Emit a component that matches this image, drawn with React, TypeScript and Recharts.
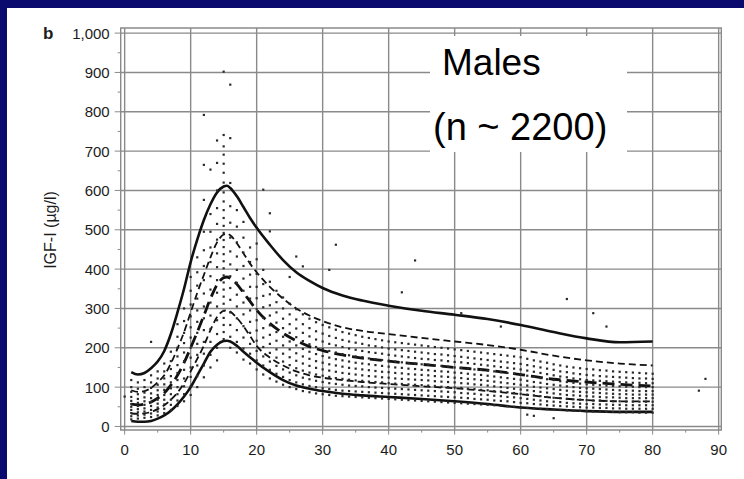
import React from 'react';
import {
  ComposedChart,
  Line,
  Scatter,
  XAxis,
  YAxis,
  ReferenceLine,
  ReferenceArea,
} from 'recharts';

// percentile curves (age in years, IGF-I in ug/l)
const ages = [1, 2, 3, 4, 5, 6, 7, 8, 9, 10, 11, 12, 13, 14, 15, 15.5, 16, 17, 18, 19, 20, 22, 24, 26, 28, 30, 33, 36, 40, 45, 50, 55, 60, 65, 70, 75, 80];
const p975 = [138, 132, 136, 148, 165, 192, 235, 290, 350, 418, 475, 525, 565, 595, 610, 612, 606, 585, 558, 530, 505, 462, 423, 392, 370, 352, 333, 320, 307, 294, 284, 273, 258, 240, 224, 214, 216];
const p84 = [92, 88, 90, 98, 112, 130, 160, 198, 240, 290, 340, 385, 430, 468, 488, 490, 486, 466, 440, 414, 392, 355, 325, 300, 282, 268, 252, 243, 235, 225, 216, 207, 195, 180, 168, 160, 155];
const p50 = [57, 55, 57, 62, 72, 85, 105, 130, 162, 200, 240, 282, 325, 360, 378, 380, 377, 362, 340, 318, 296, 262, 237, 218, 203, 193, 182, 174, 166, 158, 150, 143, 132, 120, 113, 107, 103];
const p16 = [33, 32, 33, 37, 44, 54, 68, 86, 110, 140, 172, 205, 245, 278, 294, 295, 292, 276, 255, 230, 205, 175, 155, 140, 130, 124, 118, 113, 108, 102, 97, 90, 82, 73, 67, 64, 64];
const p25 = [14, 12, 12, 14, 20, 28, 40, 56, 76, 100, 130, 160, 190, 208, 217, 218, 216, 205, 190, 176, 162, 138, 118, 104, 96, 90, 83, 79, 75, 70, 64, 57, 48, 43, 39, 37, 37];

// individual measurements, grouped by age
const cloud: [number, number[]][] = [
  [0, [76]],
  [1, [18, 26, 34, 42, 50, 57, 65, 75, 88, 100, 118]],
  [2, [20, 28, 36, 44, 52, 60, 70, 82, 96, 112]],
  [3, [22, 30, 38, 46, 55, 64, 74, 86, 100, 118]],
  [4, [24, 33, 42, 52, 62, 72, 84, 98, 112, 130, 215]],
  [5, [28, 38, 48, 58, 68, 80, 92, 106, 122, 140]],
  [6, [34, 45, 56, 68, 80, 93, 107, 122, 140, 160]],
  [7, [42, 55, 68, 82, 97, 112, 128, 146, 166, 190]],
  [8, [52, 66, 82, 100, 118, 136, 156, 178, 200, 228, 260]],
  [9, [64, 82, 102, 122, 144, 166, 188, 212, 238, 268, 300]],
  [10, [80, 102, 126, 150, 175, 200, 226, 252, 280, 310, 345, 380]],
  [11, [100, 128, 155, 182, 210, 238, 266, 295, 325, 358, 392, 430]],
  [12, [125, 155, 185, 215, 245, 275, 305, 338, 372, 408, 448, 495, 576, 665, 792]],
  [13, [150, 182, 215, 248, 282, 315, 348, 382, 418, 455, 495, 540, 653]],
  [14, [168, 200, 235, 270, 305, 340, 372, 405, 440, 475, 515, 555, 600, 670, 727]],
  [15, [222, 240, 258, 276, 294, 312, 330, 348, 366, 384, 402, 420, 438, 456, 474, 492, 510, 530, 550, 572, 595, 620, 645, 668, 691, 712, 741, 902]],
  [16, [200, 228, 258, 290, 322, 352, 382, 412, 445, 480, 518, 560, 619, 733, 869]],
  [17, [188, 215, 245, 275, 305, 335, 365, 398, 432, 468, 508, 550]],
  [18, [170, 198, 226, 255, 285, 315, 345, 376, 408, 442, 480, 520]],
  [19, [160, 185, 210, 238, 266, 295, 325, 355, 386, 418, 455]],
  [20, [145, 168, 192, 218, 244, 270, 298, 326, 355, 388, 425, 465]],
  [21, [132, 155, 178, 202, 226, 250, 276, 303, 332, 362, 398, 602]],
  [22, [122, 144, 165, 187, 210, 233, 257, 282, 308, 336, 368, 496, 542]],
  [23, [114, 134, 154, 175, 196, 218, 240, 264, 290, 316, 345]],
  [24, [106, 126, 145, 165, 185, 206, 228, 250, 274, 300, 328]],
  [25, [100, 118, 137, 156, 176, 196, 216, 238, 260, 285, 312, 380]],
  [26, [95, 112, 130, 148, 167, 186, 206, 227, 249, 272, 298, 432]],
  [27, [90, 107, 124, 142, 160, 178, 197, 217, 238, 260, 285, 407]],
  [28, [87, 103, 120, 137, 154, 172, 190, 209, 229, 250, 274]],
  [29, [84, 100, 116, 132, 149, 166, 184, 202, 221, 242, 265]],
  [30, [82, 97, 113, 129, 145, 162, 179, 197, 216, 236, 258]],
  [31, [80, 95, 110, 126, 142, 158, 175, 192, 210, 230, 252, 398]],
  [32, [78, 93, 108, 123, 139, 155, 171, 188, 206, 225, 246, 462]],
  [33, [77, 91, 106, 121, 136, 152, 168, 184, 202, 220, 240]],
  [34, [76, 90, 104, 119, 134, 149, 165, 181, 198, 216, 236]],
  [35, [75, 89, 103, 117, 132, 147, 162, 178, 195, 213, 232]],
  [36, [74, 88, 102, 116, 130, 145, 160, 176, 192, 210, 228]],
  [37, [73, 87, 100, 114, 128, 143, 158, 173, 189, 206, 225]],
  [38, [72, 86, 99, 113, 127, 141, 156, 171, 187, 204, 222]],
  [39, [71, 85, 98, 112, 125, 139, 154, 169, 185, 201, 219]],
  [40, [70, 84, 97, 110, 124, 138, 152, 167, 182, 198, 216]],
  [41, [69, 83, 96, 109, 122, 136, 150, 165, 180, 196, 214]],
  [42, [68, 82, 95, 108, 121, 135, 149, 163, 178, 194, 212, 341]],
  [43, [67, 81, 94, 107, 120, 133, 147, 161, 176, 192, 210]],
  [44, [66, 80, 93, 106, 119, 132, 146, 160, 174, 190, 208, 422]],
  [45, [65, 79, 92, 105, 118, 131, 144, 158, 172, 188, 206]],
  [46, [64, 78, 91, 104, 117, 130, 143, 157, 171, 186, 204]],
  [47, [63, 77, 90, 103, 115, 128, 141, 155, 169, 184, 202]],
  [48, [62, 76, 89, 101, 114, 127, 140, 154, 168, 183, 200]],
  [49, [61, 75, 88, 100, 113, 126, 139, 152, 166, 181, 198]],
  [50, [60, 74, 87, 99, 112, 124, 137, 150, 164, 179, 196]],
  [51, [59, 73, 85, 98, 110, 123, 136, 149, 163, 177, 194, 288]],
  [52, [58, 72, 84, 96, 109, 121, 134, 147, 161, 175, 192]],
  [53, [57, 70, 83, 95, 107, 120, 132, 145, 159, 173, 190]],
  [54, [56, 69, 81, 93, 106, 118, 131, 144, 157, 171, 188]],
  [55, [55, 68, 80, 92, 104, 116, 129, 142, 155, 169, 186]],
  [56, [54, 66, 78, 90, 102, 114, 127, 140, 153, 167, 184]],
  [57, [53, 65, 77, 89, 100, 112, 125, 138, 151, 165, 182, 254]],
  [58, [52, 64, 75, 87, 98, 110, 123, 136, 149, 163, 180]],
  [59, [50, 62, 74, 85, 96, 108, 121, 134, 147, 161, 178]],
  [60, [48, 60, 72, 83, 94, 106, 119, 132, 145, 159, 176]],
  [61, [30, 47, 59, 70, 81, 92, 104, 116, 129, 142, 156, 172]],
  [62, [27, 46, 57, 68, 79, 90, 101, 113, 126, 139, 153, 168]],
  [63, [45, 56, 66, 77, 88, 99, 111, 123, 136, 150, 165]],
  [64, [44, 54, 64, 75, 86, 97, 108, 120, 133, 147, 162]],
  [65, [21, 43, 53, 63, 73, 84, 95, 106, 118, 130, 144, 158]],
  [66, [42, 52, 62, 72, 82, 93, 104, 115, 127, 140, 155]],
  [67, [41, 51, 60, 70, 80, 91, 102, 113, 125, 138, 152, 324]],
  [68, [40, 50, 59, 69, 79, 89, 100, 111, 122, 135, 150]],
  [69, [40, 49, 58, 68, 78, 88, 98, 109, 120, 133, 148]],
  [70, [39, 48, 57, 67, 77, 87, 97, 107, 118, 131, 146]],
  [71, [38, 48, 57, 66, 76, 86, 96, 106, 117, 130, 145, 288]],
  [72, [38, 47, 56, 66, 75, 85, 95, 105, 116, 128, 143]],
  [73, [37, 47, 56, 65, 74, 84, 94, 104, 115, 127, 142, 254]],
  [74, [37, 46, 55, 64, 74, 83, 93, 103, 114, 126, 140]],
  [75, [36, 46, 55, 64, 73, 82, 92, 102, 113, 125, 139]],
  [76, [36, 45, 54, 63, 72, 82, 91, 101, 112, 124, 138]],
  [77, [36, 45, 54, 63, 72, 81, 91, 101, 111, 123, 137]],
  [78, [35, 45, 54, 63, 72, 81, 90, 100, 111, 122, 136]],
  [79, [35, 45, 54, 63, 72, 81, 90, 100, 110, 122, 135]],
  [80, [35, 45, 54, 63, 72, 81, 90, 100, 110, 121, 134]],
  [87, [91]],
  [88, [121]],
];

const xTicks = [0, 5, 10, 15, 20, 25, 30, 35, 40, 45, 50, 55, 60, 65, 70, 75, 80, 85, 90];
const yTicks = [0, 50, 100, 150, 200, 250, 300, 350, 400, 450, 500, 550, 600, 650, 700, 750, 800, 850, 900, 950, 1000];
const xGrid = [0, 10, 20, 30, 40, 50, 60, 70, 80, 90];
const yGrid = [0, 100, 200, 300, 400, 500, 600, 700, 800, 900, 1000];

const curveRows = ages.map((age, i) => ({
  age,
  p975: p975[i],
  p84: p84[i],
  p50: p50[i],
  p16: p16[i],
  p25: p25[i],
}));

const points = cloud.flatMap(([age, vals]) => vals.map((v) => ({ age, v })));

const FONT = '"Liberation Sans", Arial, Helvetica, sans-serif';
const INK = '#1c1c1c';
const GRID = '#8a8a8a';

const YTick = (props: any) => {
  const { x, y, payload } = props;
  const major = payload.value % 100 === 0;
  const label = payload.value === 1000 ? '1,000' : String(payload.value);
  return (
    <g>
      <line x1={x + (major ? 5 : 8)} x2={x + 11} y1={y} y2={y} stroke={GRID} strokeWidth={1} />
      {major && (
        <text x={x} y={y} dy="0.36em" textAnchor="end" fontSize={15} fontFamily={FONT} fill={INK}>
          {label}
        </text>
      )}
    </g>
  );
};

const XTick = (props: any) => {
  const { x, y, payload } = props;
  const major = payload.value % 10 === 0;
  return (
    <g>
      <line x1={x} x2={x} y1={y - 14.6} y2={y - (major ? 10 : 12)} stroke={GRID} strokeWidth={1} />
      {major && (
        <text x={x} y={y} dy="0.71em" textAnchor="middle" fontSize={15} fontFamily={FONT} fill={INK}>
          {payload.value}
        </text>
      )}
    </g>
  );
};

// small dark dots like the printed scatter
const dotShape = (p: any) => <rect x={p.cx - 1.1} y={p.cy - 1.1} width={2.2} height={2.2} fill="#2a2a2a" />;

export default function App() {
  return (
    <div style={{ position: 'fixed', left: 0, top: 0, width: 744, height: 479, background: '#0a0a6e', overflow: 'hidden' }}>
      <div style={{ position: 'absolute', left: 7, top: 8, width: 737, height: 471, background: '#fff' }} />
      <div style={{ position: 'absolute', left: 0, top: 0 }}>
        <ComposedChart
          width={744}
          height={479}
          data={curveRows}
          margin={{ top: 28, right: 22.7, bottom: 19, left: 20.7 }}
        >
          <XAxis
            dataKey="age"
            type="number"
            domain={[-0.6, 90.4]}
            allowDataOverflow
            ticks={xTicks}
            interval={0}
            tick={<XTick />}
            tickLine={false}
            axisLine={false}
            tickSize={5}
            tickMargin={9.6}
            height={30}
          />
          <YAxis
            type="number"
            domain={[-9, 1013]}
            allowDataOverflow
            ticks={yTicks}
            interval={0}
            tick={<YTick />}
            tickLine={false}
            axisLine={false}
            tickSize={6}
            tickMargin={5}
            width={100}
          />
          {xGrid.map((v) => (
            <ReferenceLine key={'x' + v} x={v} stroke={GRID} strokeWidth={1.4} />
          ))}
          {yGrid.map((v) => (
            <ReferenceLine key={'y' + v} y={v} stroke={GRID} strokeWidth={1.4} />
          ))}
          <ReferenceArea x1={-0.6} x2={90.4} y1={-9} y2={1013} fill="none" stroke={GRID} strokeWidth={1.4} />
          <Scatter data={points} dataKey="v" shape={dotShape} isAnimationActive={false} />
          <Line type="monotone" dataKey="p975" stroke="#111" strokeWidth={2.6} dot={false} activeDot={false} isAnimationActive={false} />
          <Line type="monotone" dataKey="p84" stroke="#111" strokeWidth={1.8} strokeDasharray="7 4" dot={false} activeDot={false} isAnimationActive={false} />
          <Line type="monotone" dataKey="p50" stroke="#111" strokeWidth={2.8} strokeDasharray="12 6" dot={false} activeDot={false} isAnimationActive={false} />
          <Line type="monotone" dataKey="p16" stroke="#111" strokeWidth={1.8} strokeDasharray="7 4" dot={false} activeDot={false} isAnimationActive={false} />
          <Line type="monotone" dataKey="p25" stroke="#111" strokeWidth={2.6} dot={false} activeDot={false} isAnimationActive={false} />
        </ComposedChart>
      </div>
      <svg width={744} height={479} style={{ position: 'absolute', left: 0, top: 0, pointerEvents: 'none' }}>
        <text x={43} y={39} fontSize={17} fontWeight="bold" fontFamily={FONT} fill={INK}>b</text>
        <text
          x={50}
          y={230}
          transform="rotate(-90 50 230)"
          textAnchor="middle"
          dominantBaseline="central"
          fontSize={16}
          fontFamily={FONT}
          fill={INK}
        >
          IGF-I (µg/l)
        </text>
        <rect x={430} y={36} width={197} height={116} fill="#fff" />
        <text x={442} y={75} fontSize={37} fontFamily={FONT} fill="#000">Males</text>
        <text x={433} y={140} fontSize={38} fontFamily={FONT} fill="#000">(n ~ 2200)</text>
      </svg>
    </div>
  );
}
